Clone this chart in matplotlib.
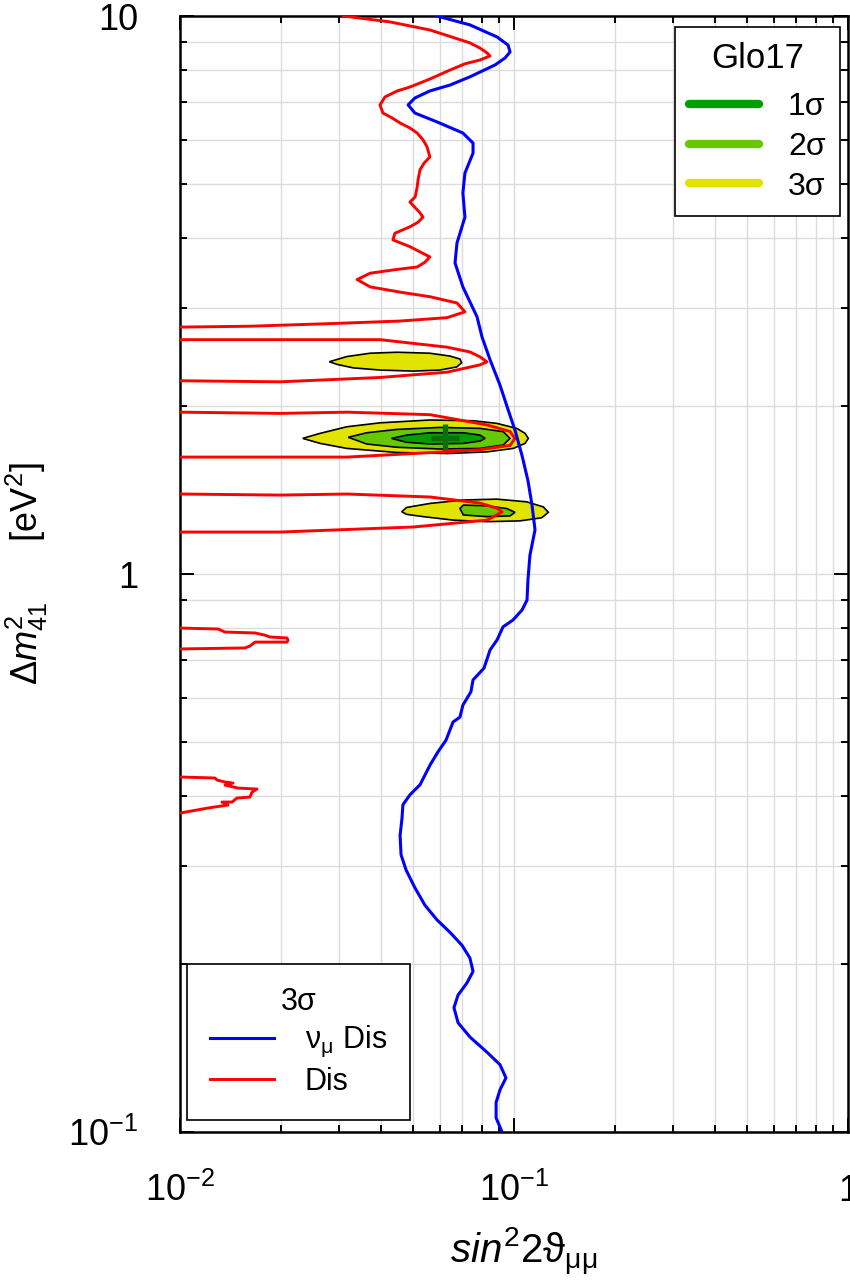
import matplotlib
matplotlib.use('Agg')
import matplotlib.pyplot as plt
from matplotlib.lines import Line2D
from matplotlib.ticker import LogLocator, NullFormatter

plt.rcParams['font.family'] = ['Liberation Sans', 'DejaVu Sans']
plt.rcParams['mathtext.fontset'] = 'custom'
plt.rcParams['mathtext.rm'] = 'Liberation Sans'
plt.rcParams['mathtext.it'] = 'Liberation Sans:italic'
plt.rcParams['mathtext.bf'] = 'Liberation Sans:bold'

# ---------------- data ----------------
# nu_mu disappearance 3 sigma curve
numu_x = [0.0588, 0.0738, 0.0890, 0.0960, 0.0973, 0.0940, 0.0877, 0.0738, 0.0643, 0.0560,
          0.0505, 0.0482, 0.0505, 0.0588, 0.0703, 0.0754, 0.0754, 0.0713, 0.0703, 0.0713,
          0.0675, 0.0666, 0.0703, 0.0775, 0.0802,
          0.0848, 0.0908, 0.0960, 0.1007, 0.1057, 0.1101,
          0.1132, 0.1156, 0.1116, 0.1101, 0.1094, 0.1057, 0.0993, 0.0927, 0.0890, 0.0848,
          0.0813, 0.0754, 0.0743, 0.0703, 0.0689, 0.0657, 0.0626, 0.0592, 0.0561, 0.0523,
          0.0488, 0.0465, 0.0462, 0.0456, 0.0459, 0.0475, 0.0505, 0.0541, 0.0588, 0.0643,
          0.0699, 0.0738, 0.0754, 0.0723, 0.0680, 0.0661, 0.0680, 0.0738, 0.0830, 0.0908,
          0.0946, 0.0908, 0.0884, 0.0884, 0.0921]
numu_y = [10.0, 9.64, 9.17, 8.87, 8.62, 8.41, 8.17, 7.78, 7.52, 7.34,
          7.13, 6.93, 6.70, 6.46, 6.17, 5.92, 5.68, 5.23, 4.82, 4.36,
          3.92, 3.61, 3.27, 2.89, 2.66,
          2.42, 2.18, 1.97, 1.81, 1.63, 1.47,
          1.33, 1.20, 1.08, 0.976, 0.898, 0.862, 0.827, 0.804, 0.762, 0.731,
          0.678, 0.646, 0.615, 0.582, 0.554, 0.543, 0.504, 0.480, 0.455, 0.419,
          0.402, 0.386, 0.365, 0.340, 0.314, 0.295, 0.274, 0.255, 0.240, 0.228,
          0.216, 0.205, 0.194, 0.185, 0.176, 0.167, 0.157, 0.148, 0.139, 0.132,
          0.125, 0.119, 0.113, 0.106, 0.100]

# global disappearance 3 sigma curve (several pieces)
dis1_x = [0.0308, 0.0425, 0.0560, 0.0666, 0.0738, 0.0791, 0.0830, 0.0848, 0.0791, 0.0713,
          0.0643, 0.0560, 0.0488, 0.0447, 0.0411, 0.0397, 0.0405, 0.0431, 0.0456, 0.0488,
          0.0513, 0.0534, 0.0549, 0.0560, 0.0538, 0.0523, 0.0516, 0.0513, 0.0506, 0.0488,
          0.0523, 0.0534, 0.0516, 0.0488, 0.0440, 0.0434, 0.0488, 0.0560, 0.0541, 0.0513,
          0.0440, 0.0371, 0.0339, 0.0371, 0.0456, 0.0560, 0.0675, 0.0713, 0.0630, 0.0456,
          0.0281, 0.0162, 0.0100]
dis1_y = [10.0, 9.76, 9.44, 9.13, 8.95, 8.76, 8.59, 8.48, 8.34, 8.21,
          8.00, 7.71, 7.46, 7.34, 7.16, 6.93, 6.70, 6.57, 6.43, 6.30,
          6.17, 6.00, 5.83, 5.59, 5.45, 5.30, 5.08, 4.94, 4.74, 4.64,
          4.44, 4.36, 4.27, 4.19, 4.08, 3.97, 3.86, 3.70, 3.62, 3.55,
          3.51, 3.46, 3.37, 3.27, 3.20, 3.14, 3.06, 2.95, 2.88, 2.84,
          2.81, 2.78, 2.77]
dis2_x = [0.0100, 0.0199, 0.0397, 0.0630, 0.0738, 0.0791, 0.0830, 0.0791, 0.0630, 0.0397, 0.0199, 0.0100]
dis2_y = [2.63, 2.63, 2.63, 2.55, 2.50, 2.45, 2.40, 2.37, 2.30, 2.25, 2.21, 2.22]
dis3_x = [0.0100, 0.0199, 0.0316, 0.0560, 0.0830, 0.0973, 0.1007, 0.0973, 0.0791, 0.0560, 0.0316, 0.0199, 0.0100]
dis3_y = [1.95, 1.94, 1.95, 1.93, 1.85, 1.80, 1.75, 1.70, 1.67, 1.65, 1.62, 1.62, 1.62]
dis4_x = [0.0100, 0.0199, 0.0316, 0.0560, 0.0791, 0.0890, 0.0921, 0.0865, 0.0830, 0.0499, 0.0199, 0.0100]
dis4_y = [1.391, 1.385, 1.391, 1.374, 1.340, 1.312, 1.292, 1.265, 1.249, 1.214, 1.189, 1.189]
dis5_x = [0.0100, 0.0130, 0.01364, 0.01677, 0.01796, 0.01859, 0.02091, 0.02105, 0.02091, 0.01677,
          0.01620, 0.01565, 0.0100]
dis5_y = [0.800, 0.797, 0.787, 0.784, 0.777, 0.771, 0.768, 0.761, 0.755, 0.755, 0.743, 0.737, 0.734]
dis6_x = [0.0100, 0.01273, 0.01291, 0.01364, 0.01441, 0.01364, 0.01492, 0.01700, 0.01643, 0.01620,
          0.01481, 0.01431, 0.01336, 0.01392, 0.01213, 0.0100]
dis6_y = [0.4327, 0.4309, 0.4273, 0.4238, 0.4220, 0.4185, 0.4134, 0.4117, 0.4066, 0.3983,
          0.3967, 0.3902, 0.3902, 0.3855, 0.3807, 0.3729]

# Glo17 allowed regions
islA3_x = [0.0280, 0.0316, 0.0371, 0.0446, 0.0560, 0.0643, 0.0689, 0.0697, 0.0674, 0.0600, 0.0500, 0.0397, 0.0330, 0.0295]
islA3_y = [2.401, 2.453, 2.487, 2.497, 2.487, 2.458, 2.428, 2.391, 2.350, 2.320, 2.310, 2.320, 2.341, 2.375]

islB3_x = [0.0233, 0.0263, 0.0316, 0.0397, 0.0560, 0.0755, 0.0888, 0.1019, 0.1079, 0.1104, 0.1079, 0.0995,
           0.0829, 0.0629, 0.0446, 0.0316, 0.0263]
islB3_y = [1.750, 1.787, 1.836, 1.866, 1.888, 1.882, 1.862, 1.824, 1.787, 1.750, 1.714, 1.679,
           1.655, 1.644, 1.651, 1.679, 1.714]
islB2_x = [0.0319, 0.0362, 0.0446, 0.0600, 0.0791, 0.0929, 0.0973, 0.0929, 0.0791, 0.0600, 0.0446, 0.0362]
islB2_y = [1.758, 1.791, 1.816, 1.831, 1.824, 1.799, 1.750, 1.703, 1.679, 1.675, 1.687, 1.710]
islB1_x = [0.0430, 0.0477, 0.0560, 0.0705, 0.0791, 0.0819, 0.0791, 0.0705, 0.0560, 0.0477]
islB1_y = [1.750, 1.774, 1.791, 1.791, 1.774, 1.750, 1.731, 1.714, 1.710, 1.722]

islC3_x = [0.0461, 0.0477, 0.0560, 0.0705, 0.0888, 0.1091, 0.1224, 0.1267, 0.1210, 0.1042, 0.0829, 0.0658, 0.0535, 0.0477]
islC3_y = [1.293, 1.316, 1.338, 1.357, 1.362, 1.347, 1.319, 1.290, 1.261, 1.245, 1.241, 1.249, 1.267, 1.279]
islC2_x = [0.0689, 0.0705, 0.0829, 0.0951, 0.1007, 0.0973, 0.0829, 0.0705]
islC2_y = [1.310, 1.329, 1.325, 1.310, 1.290, 1.271, 1.267, 1.276]

best_fit = (0.0621, 1.752)

sigma_labels = ['1σ', '2σ', '3σ']
xtick_vals = [0.01, 0.1, 1]
xtick_labels = [r'$10^{-2}$', r'$10^{-1}$', '1']
ytick_vals = [0.1, 1, 10]
ytick_labels = [r'$10^{-1}$', '1', '10']

# ---------------- styling ----------------
c1, c2, c3 = '#009f00', '#66c800', '#e3e300'
fig = plt.figure(figsize=(8.5, 12.82), dpi=100)
ax = fig.add_axes([180 / 850, 1 - 1132 / 1282, 668 / 850, 1116 / 1282])
ax.set_xscale('log')
ax.set_yscale('log')

ek = dict(edgecolor='black', linewidth=1.2)
ax.fill(islA3_x, islA3_y, facecolor=c3, zorder=2, **ek)
ax.fill(islB3_x, islB3_y, facecolor=c3, zorder=2, **ek)
ax.fill(islB2_x, islB2_y, facecolor=c2, zorder=3, **ek)
ax.fill(islB1_x, islB1_y, facecolor=c1, zorder=4, **ek)
ax.fill(islC3_x, islC3_y, facecolor=c3, zorder=2, **ek)
ax.fill(islC2_x, islC2_y, facecolor=c2, zorder=3, **ek)
ax.plot([best_fit[0]], [best_fit[1]], marker='+', color='#0a6e0a', markersize=20, mew=3.8, zorder=5)

red = '#ff0000'
for xs, ys in [(dis1_x, dis1_y), (dis2_x, dis2_y), (dis3_x, dis3_y),
               (dis4_x, dis4_y), (dis5_x, dis5_y), (dis6_x, dis6_y)]:
    ax.plot(xs, ys, color=red, lw=2.1, zorder=6, solid_joinstyle='round')
ax.plot(numu_x, numu_y, color='#0000ff', lw=2.2, zorder=7, solid_joinstyle='round')

ax.set_xlim(0.01, 1)
ax.set_ylim(0.1, 10)

ax.set_xticks(xtick_vals)
ax.set_xticklabels(xtick_labels)
ax.set_yticks(ytick_vals)
ax.set_yticklabels(ytick_labels)
ax.xaxis.set_minor_locator(LogLocator(base=10, subs=range(2, 10)))
ax.yaxis.set_minor_locator(LogLocator(base=10, subs=range(2, 10)))
ax.xaxis.set_minor_formatter(NullFormatter())
ax.yaxis.set_minor_formatter(NullFormatter())

ax.grid(which='both', color='#dcdcdc', lw=1.0)
ax.set_axisbelow(True)
ax.tick_params(which='both', direction='in', top=True, right=True, width=1.4, color='black')
ax.tick_params(which='major', length=10, labelsize=26)
ax.tick_params(which='minor', length=5)
ax.tick_params(axis='y', which='major', pad=30)
ax.tick_params(axis='x', which='major', pad=50)
for lab in ax.get_xticklabels():
    lab.set_verticalalignment('baseline')
for sp in ax.spines.values():
    sp.set_linewidth(1.8)

ax.set_xlabel(r'$\mathit{sin}^2\mathrm{2\vartheta_{\mu\mu}}$', fontsize=29)
ax.xaxis.set_label_coords(0.515, -0.084)
ax.set_ylabel(r'$\Delta m^2_{41}\quad\quad$[eV$^2$]', fontsize=26)
ax.yaxis.set_label_coords(-0.195, 0.5)

# legends
h1 = [Line2D([], [], color=c, lw=6, solid_capstyle='round') for c in (c1, c2, c3)]
leg1 = ax.legend(h1, sigma_labels, title='Glo17', loc='upper right', bbox_to_anchor=(0.988, 0.990),
                 fontsize=23, title_fontsize=25, frameon=True, fancybox=False, edgecolor='black',
                 framealpha=1, handlelength=2.2, handletextpad=0.9, labelspacing=0.3,
                 borderpad=0.45, borderaxespad=0)
leg1.get_frame().set_linewidth(1.2)
leg1.set_zorder(10)
leg1._legend_box.sep = 0.3 * 23 + 6
ax.add_artist(leg1)

h2 = [Line2D([], [], color='#0000ff', lw=2.2), Line2D([], [], color=red, lw=2.1)]
leg2 = ax.legend(h2, [r'$\mathrm{\nu_{\mu}}$ Dis', 'Dis'], title='3σ', loc='lower left',
                 bbox_to_anchor=(0.0105, 0.0108), fontsize=22, title_fontsize=22, frameon=True,
                 fancybox=False, edgecolor='black', framealpha=1, handlelength=2.1,
                 handletextpad=1.0, labelspacing=0.25, borderpad=0.75, borderaxespad=0)
leg2.get_frame().set_linewidth(1.2)
leg2.set_zorder(10)

fig.savefig('out.png', dpi=100)
